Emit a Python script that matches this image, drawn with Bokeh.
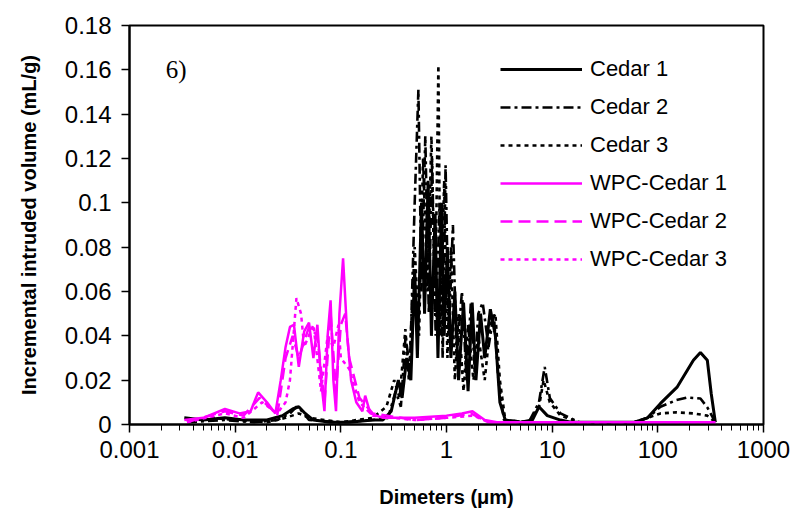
from bokeh.plotting import figure
from bokeh.models import Legend, LegendItem, FixedTicker, Label, CustomJSTickFormatter
from bokeh.embed import file_html
from bokeh.resources import INLINE

# ---------------- data ----------------
cedar1_d = [0.0033, 0.005, 0.008, 0.012, 0.02, 0.028, 0.035, 0.04, 0.046, 0.055, 0.08, 0.12, 0.2, 0.25,
            0.3, 0.35, 0.38, 0.42, 0.46, 0.5, 0.53, 0.58, 0.62, 0.67, 0.72, 0.78, 0.83, 0.9, 0.95, 1.02,
            1.1, 1.2, 1.3, 1.45, 1.6, 1.75, 1.9, 2.1, 2.3, 2.6, 2.9, 3.2, 3.6, 5, 6.5, 7.5, 9, 12, 15,
            60, 80, 106, 153, 217, 253, 294, 320, 350]
cedar1_v = [0.003, 0.002, 0.003, 0.002, 0.002, 0.004, 0.007, 0.008, 0.005, 0.002, 0.001, 0.001, 0.002, 0.002,
            0.006, 0.02, 0.012, 0.03, 0.02, 0.07, 0.03, 0.1, 0.05, 0.11, 0.04, 0.095, 0.03, 0.1, 0.04, 0.08,
            0.03, 0.06, 0.02, 0.055, 0.015, 0.055, 0.02, 0.05, 0.03, 0.052, 0.04, 0.01, 0.002, 0.001, 0.002,
            0.008, 0.004, 0.002, 0.001,
            0.001, 0.003, 0.0095, 0.017, 0.029, 0.0325, 0.029, 0.014, 0.001]

cedar2_d = [0.0035, 0.008, 0.015, 0.025, 0.033, 0.038, 0.043, 0.05, 0.1, 0.2, 0.28, 0.33, 0.37, 0.41,
            0.45, 0.5, 0.542, 0.58, 0.63, 0.68, 0.73, 0.79, 0.86, 0.92, 0.98, 1.05, 1.15, 1.25, 1.4,
            1.55, 1.7, 1.85, 2.0, 2.2, 2.5, 2.8, 3.1, 3.5, 6, 7.5, 8.5, 9.5, 12, 18,
            60, 80, 106, 150, 190, 253, 294, 350]
cedar2_v = [0.001, 0.002, 0.001, 0.002, 0.005, 0.008, 0.006, 0.002, 0.001, 0.002, 0.003, 0.015, 0.008, 0.04,
            0.025, 0.1, 0.151, 0.06, 0.13, 0.05, 0.12, 0.04, 0.1, 0.03, 0.117, 0.04, 0.09, 0.03, 0.06,
            0.02, 0.055, 0.025, 0.05, 0.055, 0.035, 0.05, 0.02, 0.002, 0.001, 0.01, 0.026, 0.012, 0.005, 0.001,
            0.001, 0.003, 0.008, 0.011, 0.0122, 0.0117, 0.0077, 0.001]

cedar3_d = [0.0035, 0.006, 0.01, 0.02, 0.03, 0.04, 0.05, 0.1, 0.2, 0.27, 0.32, 0.36, 0.408, 0.44,
            0.5, 0.55, 0.6, 0.66, 0.72, 0.78, 0.838, 0.88, 0.95, 1.02, 1.1, 1.2, 1.3, 1.45, 1.6, 1.8,
            2.0, 2.3, 2.6, 2.9, 3.2, 3.6, 6, 7.5, 8.3, 9.5, 12, 18,
            60, 80, 106, 150, 217, 294, 350]
cedar3_v = [0.002, 0.003, 0.002, 0.001, 0.003, 0.005, 0.003, 0.001, 0.003, 0.008, 0.02, 0.012, 0.043, 0.02,
            0.08, 0.04, 0.12, 0.06, 0.13, 0.05, 0.162, 0.04, 0.11, 0.03, 0.08, 0.02, 0.05, 0.015, 0.045, 0.02,
            0.04, 0.02, 0.045, 0.05, 0.02, 0.002, 0.001, 0.008, 0.02, 0.01, 0.004, 0.001,
            0.001, 0.003, 0.005, 0.0055, 0.005, 0.004, 0.001]

wpc1_d = [0.0033, 0.005, 0.008, 0.011, 0.014, 0.0165, 0.02, 0.024, 0.027, 0.03, 0.033, 0.036, 0.04,
          0.045, 0.05, 0.055, 0.06, 0.065, 0.07, 0.075, 0.08, 0.085, 0.09, 0.097, 0.105, 0.115, 0.125,
          0.14, 0.16, 0.17, 0.19, 0.25, 0.5, 1.0, 1.4, 1.76, 2.3, 3.0, 350]
wpc1_v = [0.002, 0.003, 0.007, 0.005, 0.006, 0.0145, 0.01, 0.005, 0.02, 0.035, 0.044, 0.045, 0.026,
          0.042, 0.046, 0.03, 0.045, 0.02, 0.006, 0.04, 0.056, 0.02, 0.006, 0.05, 0.075, 0.04, 0.02,
          0.01, 0.006, 0.013, 0.005, 0.003, 0.003, 0.004, 0.005, 0.006, 0.002, 0.001, 0.001]

wpc2_d = [0.0035, 0.008, 0.012, 0.017, 0.022, 0.025, 0.03, 0.035, 0.04, 0.05, 0.06, 0.07, 0.08, 0.09,
          0.1, 0.11, 0.12, 0.15, 0.2, 0.5, 1.0, 1.7, 2.5, 350]
wpc2_v = [0.001, 0.006, 0.004, 0.012, 0.007, 0.004, 0.03, 0.04, 0.03, 0.044, 0.04, 0.01, 0.05, 0.015,
          0.045, 0.05, 0.03, 0.012, 0.005, 0.002, 0.003, 0.005, 0.001, 0.001]

wpc3_d = [0.0035, 0.008, 0.012, 0.018, 0.025, 0.03, 0.033, 0.038, 0.042, 0.045, 0.055, 0.065, 0.075,
          0.085, 0.095, 0.1, 0.12, 0.15, 0.2, 0.5, 1.0, 1.8, 2.5, 350]
wpc3_v = [0.001, 0.005, 0.003, 0.01, 0.005, 0.01, 0.02, 0.057, 0.05, 0.035, 0.045, 0.015, 0.04,
          0.035, 0.045, 0.03, 0.025, 0.01, 0.004, 0.002, 0.003, 0.004, 0.001, 0.001]

series_names = ["Cedar 1", "Cedar 2", "Cedar 3", "WPC-Cedar 1", "WPC-Cedar 2", "WPC-Cedar 3"]

x_ticks = [0.001, 0.01, 0.1, 1, 10, 100, 1000]
y_ticks = [0, 0.02, 0.04, 0.06, 0.08, 0.1, 0.12, 0.14, 0.16, 0.18]
y_labels = ["0", "0.02", "0.04", "0.06", "0.08", "0.1", "0.12", "0.14", "0.16", "0.18"]

# ---------------- figure ----------------
p = figure(width=799, height=520, x_axis_type="log", x_range=(0.001, 1000), y_range=(0, 0.18),
           output_backend="svg", toolbar_location=None,
           min_border_left=129, min_border_right=36, min_border_top=25, min_border_bottom=96)
p.xgrid.visible = False
p.ygrid.visible = False
p.outline_line_color = "black"
p.outline_line_width = 2
p.background_fill_color = "white"
p.border_fill_color = "white"

BLACK = "black"
MAG = "#ff00ff"
styles = [
    (cedar1_d, cedar1_v, BLACK, "solid", 3),
    (cedar2_d, cedar2_v, BLACK, "10 4 3 4", 2.6),
    (cedar3_d, cedar3_v, BLACK, "4 4", 2.6),
    (wpc1_d, wpc1_v, MAG, "solid", 2.5),
    (wpc2_d, wpc2_v, MAG, "12 6", 2.5),
    (wpc3_d, wpc3_v, MAG, "4 4", 2.5),
]
renderers = []
for d, v, c, dash, w in styles:
    r = p.line(d, v, line_color=c, line_dash=dash, line_width=w)
    renderers.append(r)

# minor ticks on the log axis (2..9 per decade)
minor = []
for t in x_ticks[:-1]:
    for k in range(2, 10):
        minor.append(t * k)

p.xaxis.ticker = FixedTicker(ticks=x_ticks, minor_ticks=minor)
p.yaxis.ticker = FixedTicker(ticks=y_ticks)
p.xaxis.formatter = CustomJSTickFormatter(code="return String(Math.round(tick*1000)/1000);")
p.yaxis.major_label_overrides = {t: s for t, s in zip(y_ticks, y_labels)}

for ax in (p.xaxis[0], p.yaxis[0]):
    ax.axis_line_width = 2
    ax.axis_line_color = "black"
    ax.major_tick_line_width = 1.5
    ax.major_tick_in = 0
    ax.major_tick_out = 8
    ax.minor_tick_in = 0
    ax.minor_tick_out = 6
    ax.major_label_text_font = "Liberation Sans"
    ax.major_label_text_font_size = "24px"
    ax.major_label_text_color = "black"
    ax.axis_label_text_font = "Liberation Sans"
    ax.axis_label_text_font_style = "bold"
    ax.axis_label_text_font_size = "20px"
    ax.axis_label_text_color = "black"

p.yaxis.minor_tick_out = 0
p.xaxis.axis_label = "Dimeters (\u03bcm)"
p.yaxis.axis_label = "Incremental intruded volume (mL/g)"
p.xaxis.major_label_standoff = 8
p.yaxis.major_label_standoff = 10
p.xaxis.axis_label_standoff = 25
p.yaxis.axis_label_standoff = 22

p.add_layout(Label(x=0.0022, y=0.16, text="6)", text_font="Liberation Serif", text_font_size="25px",
                   text_baseline="middle", text_color="black"))

items = [LegendItem(label=n, renderers=[r]) for n, r in zip(series_names, renderers)]
legend = Legend(items=items, location=(371, 152), border_line_color=None, background_fill_alpha=0,
                label_text_font="Liberation Sans", label_text_font_size="22px", label_text_color="black",
                glyph_width=82, glyph_height=20, label_height=20, spacing=12, padding=0, margin=0,
                label_standoff=8)
p.add_layout(legend)

open("out.html", "w").write(file_html(p, INLINE))
